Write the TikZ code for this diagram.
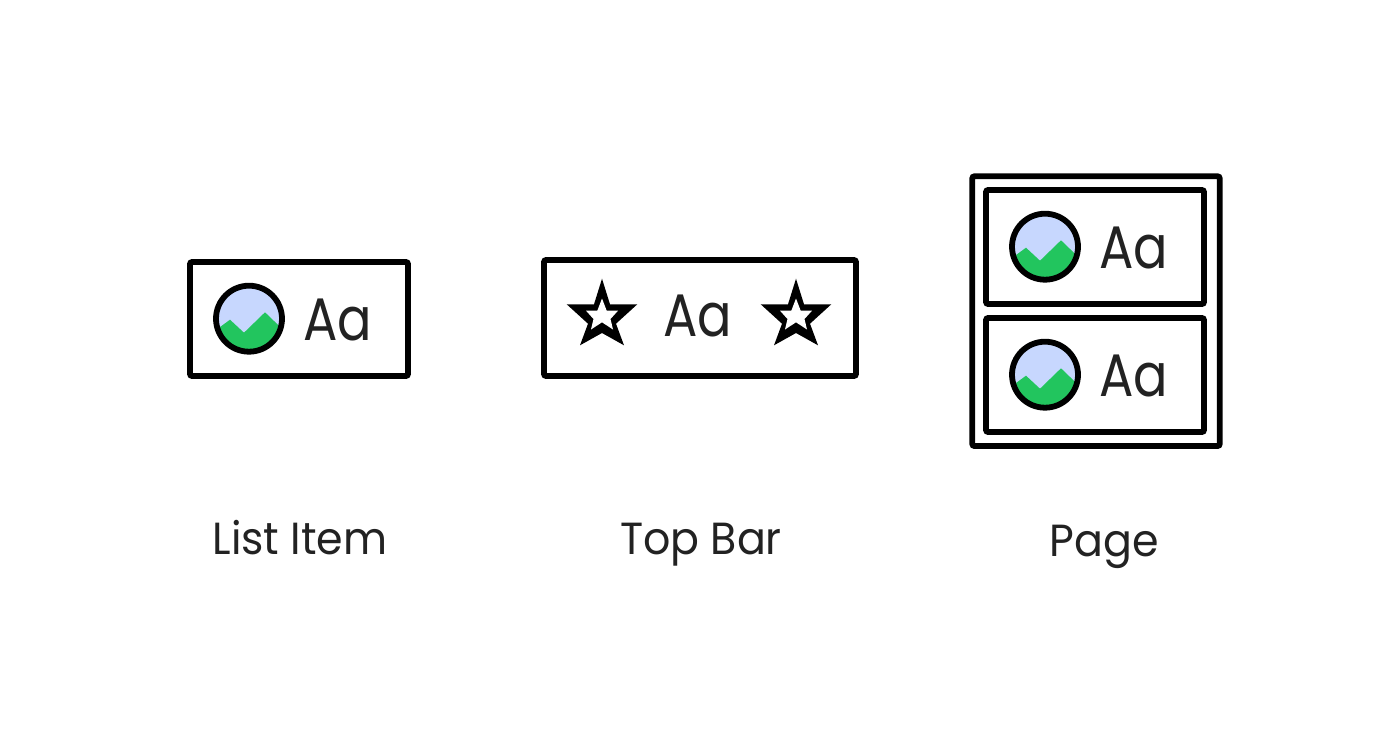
\documentclass[tikz,border=0pt]{standalone}
\usepackage{fontspec}
\setmainfont{Poppins}
\newfontfamily\bigfont[FakeStretch=0.85]{Poppins}
\newfontfamily\capfont[FakeStretch=0.95]{Poppins}
\definecolor{ink}{HTML}{222222}
\definecolor{sky}{HTML}{C7D7FE}
\definecolor{hill}{HTML}{22C55E}
\tikzset{
  frame/.style={draw=black,line width=5.7pt,rounded corners=2pt},
  bigtext/.style={text=ink,font=\bigfont\fontsize{60}{60}\selectfont,inner sep=0pt,anchor=base west},
  caption/.style={text=ink,font=\capfont\fontsize{45}{45}\selectfont,inner sep=0pt,anchor=base},
  pic icon/.pic={
    \begin{scope}
      \clip (0,0) circle (33);
      \fill[sky] (-34,-34) rectangle (34,34);
      \fill[hill] (-34,12) -- (-19,1) -- (-5,14) -- (16,-6.4) -- (34,11) -- (34,34) -- (-34,34) -- cycle;
    \end{scope}
    \draw[black,line width=5.8pt] (0,0) circle (33);
  },
  pic star/.pic={
    \fill[black] (0,-39.8) -- (8,-14.2) -- (35.3,-14.2) -- (14,5.2) -- (22,26.8) -- (0,14.5) -- (-22,26.8) -- (-14,5.2) -- (-35.3,-14.2) -- (-8,-14.2) -- cycle;
    \fill[white] (0,-20) -- (4.7,-7.8) -- (16,-7.8) -- (8.5,0.5) -- (11,11) -- (0,3.8) -- (-11,11) -- (-8.5,0.5) -- (-16,-7.8) -- (-4.7,-7.8) -- cycle;
  }
}
\begin{document}
\begin{tikzpicture}[x=1pt,y=-1pt]
\useasboundingbox (0,0) rectangle (1400,730);
\draw[frame] (190,262) rectangle (408,376);
\pic at (249,318.7) {pic icon};
\node[bigtext] (aa1) at (303,340) {Aa};
\draw[frame] (544,260) rectangle (856,376);
\pic at (602,318.5) {pic star};
\pic at (796,318.5) {pic star};
\node[bigtext] (aa2) at (663,336) {Aa};
\draw[frame] (972.3,176.3) rectangle (1219.7,446);
\draw[frame] (986,190) rectangle (1204,304);
\draw[frame] (986,318) rectangle (1204,432);
\pic at (1045,246.7) {pic icon};
\pic at (1045,374.7) {pic icon};
\node[bigtext] (aa3) at (1099,268) {Aa};
\node[bigtext] (aa4) at (1099,396) {Aa};
\node[caption] (c1) at (300,554) {List Item};
\node[caption] (c2) at (701,554) {Top Bar};
\node[caption] (c3) at (1104,556) {Page};
\end{tikzpicture}
\end{document}
